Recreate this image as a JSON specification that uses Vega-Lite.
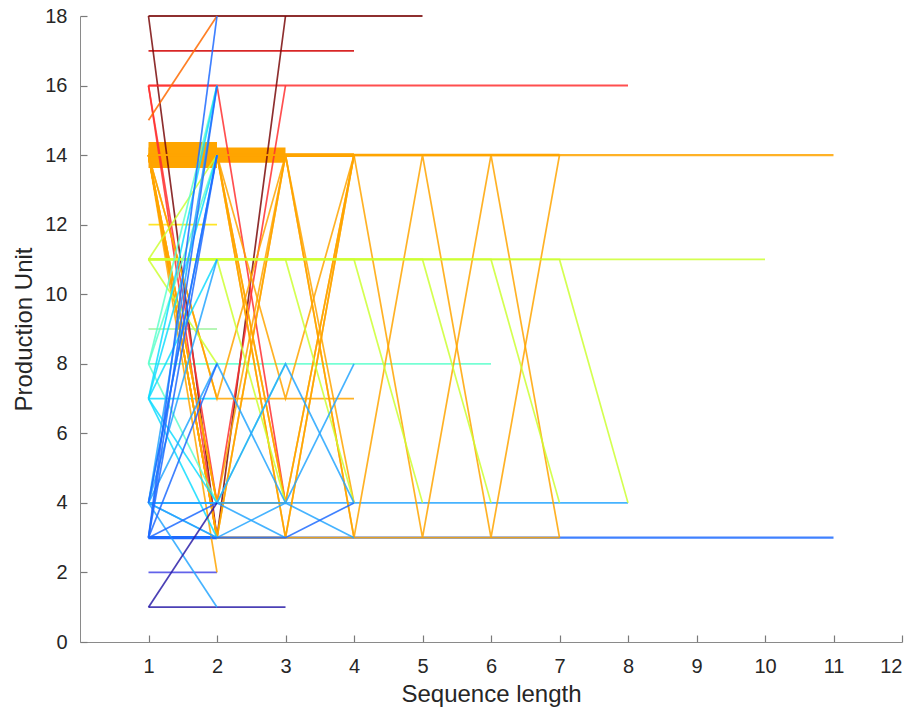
{
"$schema": "https://vega.github.io/schema/vega-lite/v6.json",
"width": 822, "height": 626,
"autosize": {"type": "none"},
"padding": {"left": 80, "top": 16, "right": 13, "bottom": 68},
"background": "white",
"config": {
  "view": {"stroke": null},
  "axis": {"grid": false, "domainColor": "#8a8a8a", "tickColor": "#7a7a7a", "tickSize": -7, "tickWidth": 1.2, "labelColor": "#262626", "titleColor": "#262626", "labelFont": "Liberation Sans", "titleFont": "Liberation Sans", "labelFontSize": 20, "titleFontSize": 24, "titleFontWeight": "normal"}
},
"data": {"values": [
{"s":1,"g":14,"n":60,"x":1,"y":14},{"s":1,"g":14,"n":60,"x":2,"y":14},
{"s":2,"g":14,"n":34,"x":1,"y":14},{"s":2,"g":14,"n":34,"x":2,"y":14},{"s":2,"g":14,"n":34,"x":3,"y":14},
{"s":3,"g":14,"n":6,"x":1,"y":14},{"s":3,"g":14,"n":6,"x":2,"y":14},{"s":3,"g":14,"n":6,"x":3,"y":14},{"s":3,"g":14,"n":6,"x":4,"y":14},
{"s":4,"g":3,"n":5,"x":1,"y":3},{"s":4,"g":3,"n":5,"x":2,"y":3},
{"s":5,"g":14,"n":3,"x":1,"y":14},{"s":5,"g":14,"n":3,"x":2,"y":14},{"s":5,"g":14,"n":3,"x":3,"y":14},{"s":5,"g":14,"n":3,"x":4,"y":14},{"s":5,"g":14,"n":3,"x":5,"y":14},{"s":5,"g":14,"n":3,"x":6,"y":14},{"s":5,"g":14,"n":3,"x":7,"y":14},
{"s":6,"g":14,"n":2,"x":1,"y":14},{"s":6,"g":14,"n":2,"x":2,"y":14},{"s":6,"g":14,"n":2,"x":3,"y":14},{"s":6,"g":14,"n":2,"x":4,"y":14},{"s":6,"g":14,"n":2,"x":5,"y":14},{"s":6,"g":14,"n":2,"x":6,"y":14},{"s":6,"g":14,"n":2,"x":7,"y":14},{"s":6,"g":14,"n":2,"x":8,"y":14},{"s":6,"g":14,"n":2,"x":9,"y":14},{"s":6,"g":14,"n":2,"x":10,"y":14},{"s":6,"g":14,"n":2,"x":11,"y":14},
{"s":7,"g":18,"n":2,"x":1,"y":18},{"s":7,"g":18,"n":2,"x":2,"y":18},{"s":7,"g":18,"n":2,"x":3,"y":18},{"s":7,"g":18,"n":2,"x":4,"y":18},{"s":7,"g":18,"n":2,"x":5,"y":18},
{"s":8,"g":16,"n":2,"x":1,"y":16},{"s":8,"g":16,"n":2,"x":2,"y":16},{"s":8,"g":16,"n":2,"x":3,"y":16},{"s":8,"g":16,"n":2,"x":4,"y":16},{"s":8,"g":16,"n":2,"x":5,"y":16},{"s":8,"g":16,"n":2,"x":6,"y":16},{"s":8,"g":16,"n":2,"x":7,"y":16},{"s":8,"g":16,"n":2,"x":8,"y":16},
{"s":9,"g":3,"n":2,"x":1,"y":3},{"s":9,"g":3,"n":2,"x":2,"y":3},{"s":9,"g":3,"n":2,"x":3,"y":3},{"s":9,"g":3,"n":2,"x":4,"y":3},{"s":9,"g":3,"n":2,"x":5,"y":3},{"s":9,"g":3,"n":2,"x":6,"y":3},{"s":9,"g":3,"n":2,"x":7,"y":3},{"s":9,"g":3,"n":2,"x":8,"y":3},{"s":9,"g":3,"n":2,"x":9,"y":3},{"s":9,"g":3,"n":2,"x":10,"y":3},{"s":9,"g":3,"n":2,"x":11,"y":3},
{"s":10,"g":11,"n":1,"x":1,"y":11},{"s":10,"g":11,"n":1,"x":2,"y":11},{"s":10,"g":11,"n":1,"x":3,"y":11},{"s":10,"g":11,"n":1,"x":4,"y":11},{"s":10,"g":11,"n":1,"x":5,"y":11},{"s":10,"g":11,"n":1,"x":6,"y":11},{"s":10,"g":11,"n":1,"x":7,"y":11},{"s":10,"g":11,"n":1,"x":8,"y":11},{"s":10,"g":11,"n":1,"x":9,"y":11},{"s":10,"g":11,"n":1,"x":10,"y":11},
{"s":11,"g":17,"n":1,"x":1,"y":17},{"s":11,"g":17,"n":1,"x":2,"y":17},{"s":11,"g":17,"n":1,"x":3,"y":17},{"s":11,"g":17,"n":1,"x":4,"y":17},
{"s":12,"g":8,"n":1,"x":1,"y":8},{"s":12,"g":8,"n":1,"x":2,"y":8},{"s":12,"g":8,"n":1,"x":3,"y":8},{"s":12,"g":8,"n":1,"x":4,"y":8},{"s":12,"g":8,"n":1,"x":5,"y":8},{"s":12,"g":8,"n":1,"x":6,"y":8},
{"s":13,"g":4,"n":1,"x":1,"y":4},{"s":13,"g":4,"n":1,"x":2,"y":4},{"s":13,"g":4,"n":1,"x":3,"y":4},{"s":13,"g":4,"n":1,"x":4,"y":4},{"s":13,"g":4,"n":1,"x":5,"y":4},{"s":13,"g":4,"n":1,"x":6,"y":4},{"s":13,"g":4,"n":1,"x":7,"y":4},{"s":13,"g":4,"n":1,"x":8,"y":4},
{"s":14,"g":12,"n":1,"x":1,"y":12},{"s":14,"g":12,"n":1,"x":2,"y":12},
{"s":15,"g":9,"n":1,"x":1,"y":9},{"s":15,"g":9,"n":1,"x":2,"y":9},
{"s":16,"g":7,"n":1,"x":1,"y":7},{"s":16,"g":7,"n":1,"x":2,"y":7},
{"s":17,"g":2,"n":1,"x":1,"y":2},{"s":17,"g":2,"n":1,"x":2,"y":2},
{"s":18,"g":1,"n":1,"x":1,"y":1},{"s":18,"g":1,"n":1,"x":2,"y":1},{"s":18,"g":1,"n":1,"x":3,"y":1},
{"s":19,"g":18,"n":1,"x":1,"y":18},{"s":19,"g":18,"n":1,"x":2,"y":3},{"s":19,"g":18,"n":1,"x":3,"y":18},
{"s":20,"g":16,"n":1,"x":1,"y":16},{"s":20,"g":16,"n":1,"x":2,"y":4},{"s":20,"g":16,"n":1,"x":3,"y":16},
{"s":21,"g":16,"n":1,"x":1,"y":16},{"s":21,"g":16,"n":1,"x":2,"y":16},{"s":21,"g":16,"n":1,"x":3,"y":4},
{"s":22,"g":16,"n":1,"x":1,"y":16},{"s":22,"g":16,"n":1,"x":2,"y":3},
{"s":23,"g":15,"n":1,"x":1,"y":15},{"s":23,"g":15,"n":1,"x":2,"y":18},
{"s":24,"g":14,"n":1,"x":1,"y":14},{"s":24,"g":14,"n":1,"x":2,"y":3},{"s":24,"g":14,"n":1,"x":3,"y":3},{"s":24,"g":14,"n":1,"x":4,"y":3},{"s":24,"g":14,"n":1,"x":5,"y":3},{"s":24,"g":14,"n":1,"x":6,"y":3},{"s":24,"g":14,"n":1,"x":7,"y":3},
{"s":25,"g":14,"n":1,"x":1,"y":14},{"s":25,"g":14,"n":1,"x":2,"y":14},{"s":25,"g":14,"n":1,"x":3,"y":14},{"s":25,"g":14,"n":1,"x":4,"y":3},{"s":25,"g":14,"n":1,"x":5,"y":14},{"s":25,"g":14,"n":1,"x":6,"y":3},{"s":25,"g":14,"n":1,"x":7,"y":14},
{"s":26,"g":14,"n":1,"x":1,"y":14},{"s":26,"g":14,"n":1,"x":2,"y":14},{"s":26,"g":14,"n":1,"x":3,"y":14},{"s":26,"g":14,"n":1,"x":4,"y":14},{"s":26,"g":14,"n":1,"x":5,"y":3},{"s":26,"g":14,"n":1,"x":6,"y":14},{"s":26,"g":14,"n":1,"x":7,"y":3},
{"s":27,"g":14,"n":1,"x":1,"y":14},{"s":27,"g":14,"n":1,"x":2,"y":4},{"s":27,"g":14,"n":1,"x":3,"y":14},{"s":27,"g":14,"n":1,"x":4,"y":3},
{"s":28,"g":14,"n":1,"x":1,"y":14},{"s":28,"g":14,"n":1,"x":2,"y":3},{"s":28,"g":14,"n":1,"x":3,"y":14},{"s":28,"g":14,"n":1,"x":4,"y":4},
{"s":29,"g":14,"n":1,"x":1,"y":14},{"s":29,"g":14,"n":1,"x":2,"y":7},{"s":29,"g":14,"n":1,"x":3,"y":7},{"s":29,"g":14,"n":1,"x":4,"y":7},
{"s":30,"g":14,"n":1,"x":1,"y":14},{"s":30,"g":14,"n":1,"x":2,"y":2},
{"s":31,"g":14,"n":1,"x":1,"y":14},{"s":31,"g":14,"n":1,"x":2,"y":14},{"s":31,"g":14,"n":1,"x":3,"y":3},{"s":31,"g":14,"n":1,"x":4,"y":14},
{"s":32,"g":14,"n":1,"x":1,"y":14},{"s":32,"g":14,"n":1,"x":2,"y":14},{"s":32,"g":14,"n":1,"x":3,"y":4},{"s":32,"g":14,"n":1,"x":4,"y":14},
{"s":33,"g":14,"n":1,"x":1,"y":14},{"s":33,"g":14,"n":1,"x":2,"y":3},{"s":33,"g":14,"n":1,"x":3,"y":3},{"s":33,"g":14,"n":1,"x":4,"y":14},
{"s":34,"g":14,"n":1,"x":1,"y":14},{"s":34,"g":14,"n":1,"x":2,"y":14},{"s":34,"g":14,"n":1,"x":3,"y":7},{"s":34,"g":14,"n":1,"x":4,"y":14},
{"s":35,"g":14,"n":1,"x":1,"y":14},{"s":35,"g":14,"n":1,"x":2,"y":4},{"s":35,"g":14,"n":1,"x":3,"y":4},{"s":35,"g":14,"n":1,"x":4,"y":14},
{"s":36,"g":14,"n":1,"x":1,"y":14},{"s":36,"g":14,"n":1,"x":2,"y":3},
{"s":37,"g":14,"n":1,"x":1,"y":14},{"s":37,"g":14,"n":1,"x":2,"y":4},
{"s":38,"g":14,"n":1,"x":1,"y":14},{"s":38,"g":14,"n":1,"x":2,"y":7},{"s":38,"g":14,"n":1,"x":3,"y":14},
{"s":39,"g":14,"n":1,"x":1,"y":14},{"s":39,"g":14,"n":1,"x":2,"y":3},{"s":39,"g":14,"n":1,"x":3,"y":14},
{"s":40,"g":14,"n":1,"x":1,"y":14},{"s":40,"g":14,"n":1,"x":2,"y":14},{"s":40,"g":14,"n":1,"x":3,"y":3},
{"s":41,"g":14,"n":1,"x":1,"y":14},{"s":41,"g":14,"n":1,"x":2,"y":14},{"s":41,"g":14,"n":1,"x":3,"y":4},
{"s":42,"g":11,"n":1,"x":1,"y":11},{"s":42,"g":11,"n":1,"x":2,"y":11},{"s":42,"g":11,"n":1,"x":3,"y":4},
{"s":43,"g":11,"n":1,"x":1,"y":11},{"s":43,"g":11,"n":1,"x":2,"y":11},{"s":43,"g":11,"n":1,"x":3,"y":11},{"s":43,"g":11,"n":1,"x":4,"y":4},
{"s":44,"g":11,"n":1,"x":1,"y":11},{"s":44,"g":11,"n":1,"x":2,"y":11},{"s":44,"g":11,"n":1,"x":3,"y":11},{"s":44,"g":11,"n":1,"x":4,"y":11},{"s":44,"g":11,"n":1,"x":5,"y":4},
{"s":45,"g":11,"n":1,"x":1,"y":11},{"s":45,"g":11,"n":1,"x":2,"y":11},{"s":45,"g":11,"n":1,"x":3,"y":11},{"s":45,"g":11,"n":1,"x":4,"y":11},{"s":45,"g":11,"n":1,"x":5,"y":11},{"s":45,"g":11,"n":1,"x":6,"y":4},
{"s":46,"g":11,"n":1,"x":1,"y":11},{"s":46,"g":11,"n":1,"x":2,"y":11},{"s":46,"g":11,"n":1,"x":3,"y":11},{"s":46,"g":11,"n":1,"x":4,"y":11},{"s":46,"g":11,"n":1,"x":5,"y":11},{"s":46,"g":11,"n":1,"x":6,"y":11},{"s":46,"g":11,"n":1,"x":7,"y":4},
{"s":47,"g":11,"n":1,"x":1,"y":11},{"s":47,"g":11,"n":1,"x":2,"y":11},{"s":47,"g":11,"n":1,"x":3,"y":11},{"s":47,"g":11,"n":1,"x":4,"y":11},{"s":47,"g":11,"n":1,"x":5,"y":11},{"s":47,"g":11,"n":1,"x":6,"y":11},{"s":47,"g":11,"n":1,"x":7,"y":11},{"s":47,"g":11,"n":1,"x":8,"y":4},
{"s":48,"g":11,"n":1,"x":1,"y":11},{"s":48,"g":11,"n":1,"x":2,"y":14},
{"s":49,"g":11,"n":1,"x":1,"y":11},{"s":49,"g":11,"n":1,"x":2,"y":8},
{"s":50,"g":8,"n":1,"x":1,"y":8},{"s":50,"g":8,"n":1,"x":2,"y":16},
{"s":51,"g":8,"n":1,"x":1,"y":8},{"s":51,"g":8,"n":1,"x":2,"y":14},
{"s":52,"g":8,"n":1,"x":1,"y":8},{"s":52,"g":8,"n":1,"x":2,"y":4},{"s":52,"g":8,"n":1,"x":3,"y":8},
{"s":53,"g":7,"n":1,"x":1,"y":7},{"s":53,"g":7,"n":1,"x":2,"y":16},
{"s":54,"g":7,"n":1,"x":1,"y":7},{"s":54,"g":7,"n":1,"x":2,"y":14},
{"s":55,"g":7,"n":1,"x":1,"y":7},{"s":55,"g":7,"n":1,"x":2,"y":4},
{"s":56,"g":7,"n":1,"x":1,"y":7},{"s":56,"g":7,"n":1,"x":2,"y":3},
{"s":57,"g":7,"n":1,"x":1,"y":7},{"s":57,"g":7,"n":1,"x":2,"y":11},
{"s":58,"g":4,"n":1,"x":1,"y":4},{"s":58,"g":4,"n":1,"x":2,"y":14},
{"s":59,"g":4,"n":1,"x":1,"y":4},{"s":59,"g":4,"n":1,"x":2,"y":16},
{"s":60,"g":4,"n":1,"x":1,"y":4},{"s":60,"g":4,"n":1,"x":2,"y":11},
{"s":61,"g":4,"n":1,"x":1,"y":4},{"s":61,"g":4,"n":1,"x":2,"y":8},{"s":61,"g":4,"n":1,"x":3,"y":4},{"s":61,"g":4,"n":1,"x":4,"y":8},
{"s":62,"g":4,"n":1,"x":1,"y":4},{"s":62,"g":4,"n":1,"x":2,"y":4},{"s":62,"g":4,"n":1,"x":3,"y":8},{"s":62,"g":4,"n":1,"x":4,"y":4},
{"s":63,"g":4,"n":1,"x":1,"y":4},{"s":63,"g":4,"n":1,"x":2,"y":3},
{"s":64,"g":4,"n":1,"x":1,"y":4},{"s":64,"g":4,"n":1,"x":2,"y":1},
{"s":65,"g":4,"n":1,"x":1,"y":4},{"s":65,"g":4,"n":1,"x":2,"y":4},{"s":65,"g":4,"n":1,"x":3,"y":3},
{"s":66,"g":4,"n":1,"x":1,"y":4},{"s":66,"g":4,"n":1,"x":2,"y":3},{"s":66,"g":4,"n":1,"x":3,"y":4},
{"s":67,"g":4,"n":1,"x":1,"y":4},{"s":67,"g":4,"n":1,"x":2,"y":4},{"s":67,"g":4,"n":1,"x":3,"y":4},{"s":67,"g":4,"n":1,"x":4,"y":3},
{"s":68,"g":3,"n":1,"x":1,"y":3},{"s":68,"g":3,"n":1,"x":2,"y":18},
{"s":69,"g":3,"n":1,"x":1,"y":3},{"s":69,"g":3,"n":1,"x":2,"y":16},
{"s":70,"g":3,"n":1,"x":1,"y":3},{"s":70,"g":3,"n":1,"x":2,"y":14},
{"s":71,"g":3,"n":1,"x":1,"y":4},{"s":71,"g":3,"n":1,"x":2,"y":14},
{"s":72,"g":3,"n":1,"x":1,"y":3},{"s":72,"g":3,"n":1,"x":2,"y":4},
{"s":73,"g":3,"n":1,"x":1,"y":3},{"s":73,"g":3,"n":1,"x":2,"y":3},{"s":73,"g":3,"n":1,"x":3,"y":3},{"s":73,"g":3,"n":1,"x":4,"y":4},
{"s":74,"g":1,"n":1,"x":1,"y":1},{"s":74,"g":1,"n":1,"x":2,"y":4},
{"s":75,"g":3,"n":1,"x":1,"y":3},{"s":75,"g":3,"n":1,"x":2,"y":8}
]},
"encoding": {
  "x": {"field": "x", "type": "quantitative", "scale": {"domain": [0, 12], "nice": false}, "axis": {"values": [1,2,3,4,5,6,7,8,9,10,11,12], "title": "Sequence length", "labelPadding": 21, "titlePadding": 6}},
  "y": {"field": "y", "type": "quantitative", "scale": {"domain": [0, 18], "nice": false}, "axis": {"values": [0,2,4,6,8,10,12,14,16,18], "title": "Production Unit", "labelPadding": 20, "titlePadding": 8}},
  "detail": {"field": "s", "type": "nominal"},
  "color": {"field": "g", "type": "nominal", "legend": null, "scale": {"domain": [1,2,3,4,7,8,9,11,12,14,15,16,17,18], "range": ["#2b1fa8","#4646e6","#1f6bff","#26a6ff","#12dcff","#5effcc","#8cf08c","#ccff33","#ffe100","#ffa500","#ff6a00","#ff3030","#d10000","#7a0a0a"]}},
  "strokeWidth": {"field": "n", "type": "quantitative", "legend": null, "scale": {"domain": [1, 60], "range": [1.7, 26]}}
},
"layer": [
  {"transform": [{"filter": "datum.n >= 3"}], "mark": {"type": "line", "opacity": 1}},
  {"transform": [{"filter": "datum.n < 3"}], "mark": {"type": "line", "opacity": 0.85}}
]
}
